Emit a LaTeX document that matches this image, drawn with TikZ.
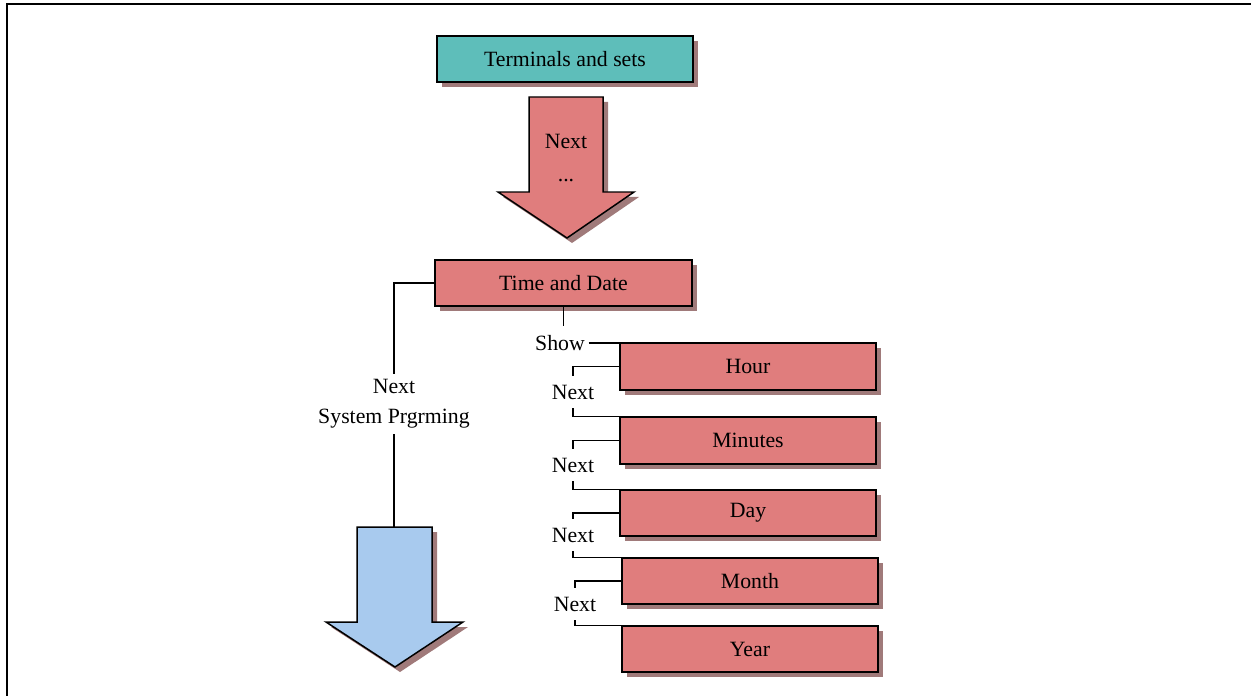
\documentclass[tikz,border=0pt]{standalone}
\usepackage{fontspec}
\setmainfont{Liberation Serif}
\usetikzlibrary{shadows,positioning}
\definecolor{tealbox}{RGB}{94,190,186}
\definecolor{redbox}{RGB}{224,125,125}
\definecolor{bluearrow}{RGB}{168,202,238}
\definecolor{shadowc}{RGB}{160,122,122}

\tikzset{
  boxshadow/.style={drop shadow={fill=shadowc, opacity=1, shadow xshift=0.1cm, shadow yshift=-0.1cm}},
  menubox/.style={draw=black, line width=0.85pt, fill=redbox, boxshadow,
    minimum width=5.12cm, minimum height=0.92cm, inner sep=0pt},
  bigarrow/.style={draw=black, line width=0.85pt, boxshadow},
  lbl/.style={inner xsep=2pt, inner ysep=5pt},
  wire/.style={line width=0.65pt},
}

\begin{document}
\begin{tikzpicture}[x=0.02cm, y=-0.02cm, font=\fontsize{12.4}{17}\selectfont]
    \useasboundingbox (0,0) rectangle (1251,696);

    % Frame (top and left only)
    \draw[line width=0.04cm] (7,696) -- (7,4) -- (1251,4);

    % Top box and the first arrow
    \node[menubox, fill=tealbox] (terminals) at (565,59) {Terminals and sets};
    \draw[bigarrow, fill=redbox] (529,97) -- (603,97) -- (603,192) -- (634,192)
        -- (567,238) -- (498,192) -- (529,192) -- cycle;
    \node[align=center] (nextdots) at (566,158) {Next\\[2pt]...};

    % Time and Date
    \node[menubox, minimum width=5.14cm] (td) at (563.5,283) {Time and Date};

    % Left branch to the blue arrow
    \node[align=center, inner sep=3pt] (sysnext) at (394,404) {Next\\System Prgrming};
    \draw[bigarrow, fill=bluearrow] (357,527) -- (432,527) -- (432,622) -- (463,622)
        -- (395,667) -- (326,622) -- (357,622) -- cycle;
    \coordinate (bluetop) at (394,527);
    \draw[wire] (td.west) -| (sysnext.north);
    \draw[wire] (sysnext.south) -- (bluetop);

    % Right branch: the fields
    \node[lbl] (show) at (560,343) {Show};
    \node[menubox, minimum height=0.94cm] (hour) at (748,366.5) {Hour};
    \node[menubox, minimum height=0.94cm] (minutes) at (748,440.5) {Minutes};
    \node[menubox] (day) at (748,513) {Day};
    \node[menubox] (month) at (750,581) {Month};
    \node[menubox] (year) at (750,649) {Year};

    \node[lbl] (next1) at (573,392) {Next};
    \node[lbl] (next2) at (573,465) {Next};
    \node[lbl] (next3) at (573,535) {Next};
    \node[lbl] (next4) at (575,604) {Next};

    \draw[wire] (td.south) -- (td.south |- show.north);
    \draw[wire] (show.east) -- (show.east -| hour.west);

    \draw[wire] (hour.west) -| (next1.north);
    \draw[wire] (next1.south) |- (minutes.north west);
    \draw[wire] (minutes.west) -| (next2.north);
    \draw[wire] (next2.south) |- (day.north west);
    \draw[wire] (day.west) -| (next3.north);
    \draw[wire] (next3.south) |- (month.north west);
    \draw[wire] (month.west) -| (next4.north);
    \draw[wire] (next4.south) |- (year.north west);
\end{tikzpicture}
\end{document}
